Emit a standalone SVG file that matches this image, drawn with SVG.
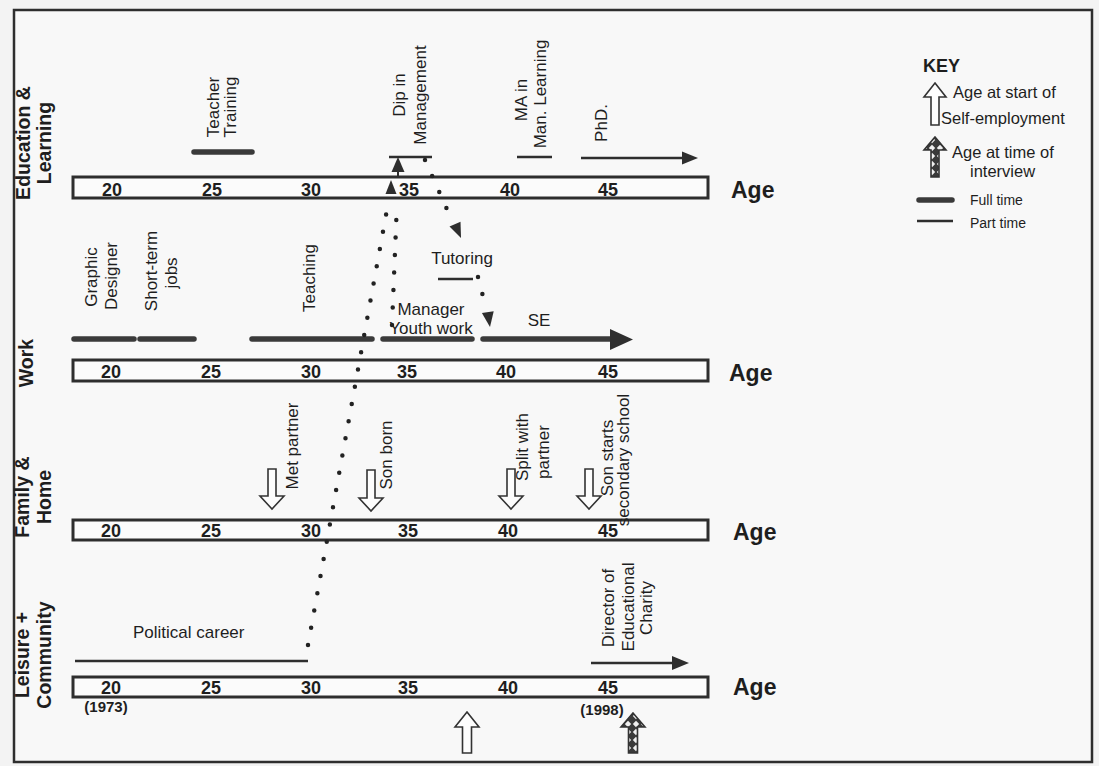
<svg xmlns="http://www.w3.org/2000/svg" width="1099" height="766" viewBox="0 0 1099 766">
<defs>
<style>
text{font-family:"Liberation Sans",Arial,sans-serif;fill:#1e1e1e}
.lbl{font-size:17px}
.rl{font-size:17px;text-anchor:middle}
.row{font-size:19.5px;font-weight:bold;text-anchor:middle}
.num{font-size:18px;font-weight:bold;text-anchor:middle}
.age{font-size:23px;font-weight:bold}
.yr{font-size:15px;font-weight:bold;text-anchor:middle}
.key{font-size:16.5px}
.small{font-size:14px}
.bar{fill:#fbfbfb;stroke:#2e2e2e;stroke-width:3}
.ft{stroke:#3a3a3a;stroke-width:5.5;stroke-linecap:round;fill:none}
.pt{stroke:#2e2e2e;stroke-width:2.6;fill:none}
.head{fill:#2e2e2e}
.hollow{fill:#fdfdfd;stroke:#333;stroke-width:1.6;stroke-linejoin:miter}
.pat{fill:url(#zig);stroke:#333;stroke-width:1.6}
.dot{stroke:#222;stroke-width:4.5;stroke-linecap:round;stroke-dasharray:0 17.5;fill:none}
</style>
<pattern id="zig" patternUnits="userSpaceOnUse" width="8" height="8">
<rect width="8" height="8" fill="#3a3a3a"/>
<path d="M4,0.8 L7.2,4 L4,7.2 L0.8,4 Z" fill="#f0f0f0"/>
</pattern>
</defs>
<rect x="0" y="0" width="1099" height="766" fill="#f3f3f3"/>
<rect x="14" y="10" width="1078" height="752" fill="#f8f8f8" stroke="#2e2e2e" stroke-width="2.5"/>

<!-- row labels -->
<g id="row-education">
<text class="row" transform="rotate(-90 30 143)" x="30" y="143">Education &amp;</text>
<text class="row" transform="rotate(-90 51 143)" x="51" y="143">Learning</text>
</g>
<g id="row-work">
<text class="row" transform="rotate(-90 33 363)" x="33" y="363">Work</text>
</g>
<g id="row-family">
<text class="row" transform="rotate(-90 29 497)" x="29" y="497">Family &amp;</text>
<text class="row" transform="rotate(-90 51 497)" x="51" y="497">Home</text>
</g>
<g id="row-leisure">
<text class="row" transform="rotate(-90 29 655)" x="29" y="655">Leisure +</text>
<text class="row" transform="rotate(-90 51 655)" x="51" y="655">Community</text>
</g>

<!-- age bars -->
<g id="bar-education">
<rect class="bar" x="73" y="177" width="635" height="21"/>
<text class="num" x="112" y="196">20</text><text class="num" x="212" y="196">25</text><text class="num" x="311" y="196">30</text><text class="num" x="409" y="196">35</text><text class="num" x="510" y="196">40</text><text class="num" x="608" y="196">45</text>
<text class="age" x="731" y="198">Age</text>
</g>
<g id="bar-work">
<rect class="bar" x="73" y="360" width="635" height="21"/>
<text class="num" x="111" y="378">20</text><text class="num" x="211" y="378">25</text><text class="num" x="311" y="378">30</text><text class="num" x="407" y="378">35</text><text class="num" x="506" y="378">40</text><text class="num" x="608" y="378">45</text>
<text class="age" x="729" y="381">Age</text>
</g>
<g id="bar-family">
<rect class="bar" x="73" y="520" width="635" height="20"/>
<text class="num" x="111" y="537">20</text><text class="num" x="211" y="537">25</text><text class="num" x="311" y="537">30</text><text class="num" x="408" y="537">35</text><text class="num" x="508" y="537">40</text><text class="num" x="608" y="537">45</text>
<text class="age" x="733" y="540">Age</text>
</g>
<g id="bar-leisure">
<rect class="bar" x="73" y="677" width="635" height="20"/>
<text class="num" x="111" y="694">20</text><text class="num" x="211" y="694">25</text><text class="num" x="311" y="694">30</text><text class="num" x="408" y="694">35</text><text class="num" x="508" y="694">40</text><text class="num" x="608" y="694">45</text>
<text class="age" x="733" y="695">Age</text>
<text class="yr" x="106" y="712">(1973)</text>
<text class="yr" x="602" y="715">(1998)</text>
</g>

<!-- education activities -->
<g id="teacher-training">
<line class="ft" x1="194" y1="152" x2="252" y2="152"/>
<text class="rl" transform="rotate(-90 219 107)" x="219" y="107">Teacher</text>
<text class="rl" transform="rotate(-90 236 107)" x="236" y="107">Training</text>
</g>
<g id="dip-management">
<line class="pt" x1="389" y1="157" x2="432" y2="157"/>
<text class="rl" transform="rotate(-90 405 95)" x="405" y="95">Dip in</text>
<text class="rl" transform="rotate(-90 426 95)" x="426" y="95">Management</text>
</g>
<g id="ma-learning">
<line class="pt" x1="517" y1="157" x2="552" y2="157"/>
<text class="rl" transform="rotate(-90 527 100)" x="527" y="100">MA in</text>
<text class="rl" transform="rotate(-90 546 94)" x="546" y="94">Man. Learning</text>
</g>
<g id="phd">
<line class="pt" x1="581" y1="158" x2="685" y2="158"/>
<polygon class="head" points="682,151.5 698,158 682,164.5"/>
<text class="rl" transform="rotate(-90 607 123)" x="607" y="123">PhD.</text>
</g>

<!-- work activities -->
<g id="graphic-designer">
<line class="ft" x1="74" y1="339" x2="134" y2="339"/>
<text class="rl" transform="rotate(-90 97 277)" x="97" y="277">Graphic</text>
<text class="rl" transform="rotate(-90 117 276)" x="117" y="276">Designer</text>
</g>
<g id="short-term-jobs">
<line class="ft" x1="140" y1="339" x2="194" y2="339"/>
<text class="rl" transform="rotate(-90 157 271)" x="157" y="271">Short-term</text>
<text class="rl" transform="rotate(-90 177 273)" x="177" y="273">jobs</text>
</g>
<g id="teaching">
<line class="ft" x1="252" y1="339" x2="372" y2="339"/>
<text class="rl" transform="rotate(-90 315 278)" x="315" y="278">Teaching</text>
</g>
<g id="tutoring">
<line class="pt" x1="438" y1="279" x2="473" y2="279"/>
<text class="lbl" x="462" y="264" text-anchor="middle">Tutoring</text>
</g>
<g id="manager-youth-work">
<line class="ft" x1="383" y1="339" x2="472" y2="339"/>
<text class="lbl" x="431" y="315" text-anchor="middle">Manager</text>
<text class="lbl" x="431" y="334" text-anchor="middle">Youth work</text>
</g>
<g id="se">
<line class="ft" x1="483" y1="339" x2="612" y2="339"/>
<polygon class="head" points="610,329 633,339.5 610,350"/>
<text class="lbl" x="539" y="326" text-anchor="middle">SE</text>
</g>

<!-- family events -->
<g id="met-partner">
<polygon class="hollow" points="268,469 276,469 276,496 284,496 272,509 260,496 268,496"/>
<text class="rl" transform="rotate(-90 298 446)" x="298" y="446">Met partner</text>
</g>
<g id="son-born">
<polygon class="hollow" points="367,470 375,470 375,498 383,498 371,511 359,498 367,498"/>
<text class="rl" transform="rotate(-90 392 455)" x="392" y="455">Son born</text>
</g>
<g id="split-partner">
<polygon class="hollow" points="507,469 515,469 515,496 523,496 511,509 499,496 507,496"/>
<text class="rl" transform="rotate(-90 528 447)" x="528" y="447">Split with</text>
<text class="rl" transform="rotate(-90 549 452)" x="549" y="452">partner</text>
</g>
<g id="son-secondary">
<polygon class="hollow" points="585,469 593,469 593,496 601,496 589,509 577,496 585,496"/>
<text class="rl" transform="rotate(-90 613 458)" x="613" y="458">Son starts</text>
<text class="rl" transform="rotate(-90 629 460)" x="629" y="460">secondary school</text>
</g>

<!-- leisure -->
<g id="political-career">
<line class="pt" x1="75" y1="661" x2="308" y2="661"/>
<text class="lbl" x="133" y="638">Political career</text>
</g>
<g id="director-charity">
<line class="pt" x1="591" y1="663" x2="675" y2="663"/>
<polygon class="head" points="672,656 689,663 672,670"/>
<text class="rl" transform="rotate(-90 614 608)" x="614" y="608">Director of</text>
<text class="rl" transform="rotate(-90 634 607)" x="634" y="607">Educational</text>
<text class="rl" transform="rotate(-90 652 608)" x="652" y="608">Charity</text>
</g>
<g id="start-self-employment">
<polygon class="hollow" points="467,712 479,727 471.5,727 471.5,753 462.5,753 462.5,727 455,727"/>
</g>
<g id="time-of-interview">
<polygon class="pat" points="633,713 645,727 637.5,727 637.5,753 628.5,753 628.5,727 621,727"/>
</g>

<!-- key -->
<g id="key">
<text x="923" y="72" style="font-size:18px;font-weight:bold">KEY</text>
<polygon class="hollow" points="935,83 946,97 939,97 939,125 931,125 931,97 924,97"/>
<text class="key" x="953" y="98">Age at start of</text>
<text class="key" x="941" y="124">Self-employment</text>
<polygon class="pat" points="935,137 946,150 939,150 939,177 931,177 931,150 924,150"/>
<text class="key" x="952" y="158">Age at time of</text>
<text class="key" x="970" y="177">interview</text>
<line class="ft" x1="919" y1="200" x2="952" y2="200"/>
<text class="small" x="970" y="205">Full time</text>
<line class="pt" x1="917" y1="221" x2="953" y2="221"/>
<text class="small" x="970" y="228">Part time</text>
</g>

<!-- connectors -->
<g id="connectors">
<path class="dot" d="M308,645 L388,204"/>
<polygon class="head" points="391,180 396.5,194 385.5,194"/>
<path class="dot" d="M392,325 L397,203"/>
<line x1="398" y1="171" x2="398" y2="177" stroke="#2e2e2e" stroke-width="2"/>
<polygon class="head" points="398,157 404.5,172 391.5,172"/>
<path class="dot" d="M425,160 L450,216"/>
<polygon class="head" points="461,238 449.5,226.6 460.5,221.8"/>
<path class="dot" d="M478,277 L486,308"/>
<polygon class="head" points="490,327 481.9,313 493.7,311.3"/>
</g>
</svg>
